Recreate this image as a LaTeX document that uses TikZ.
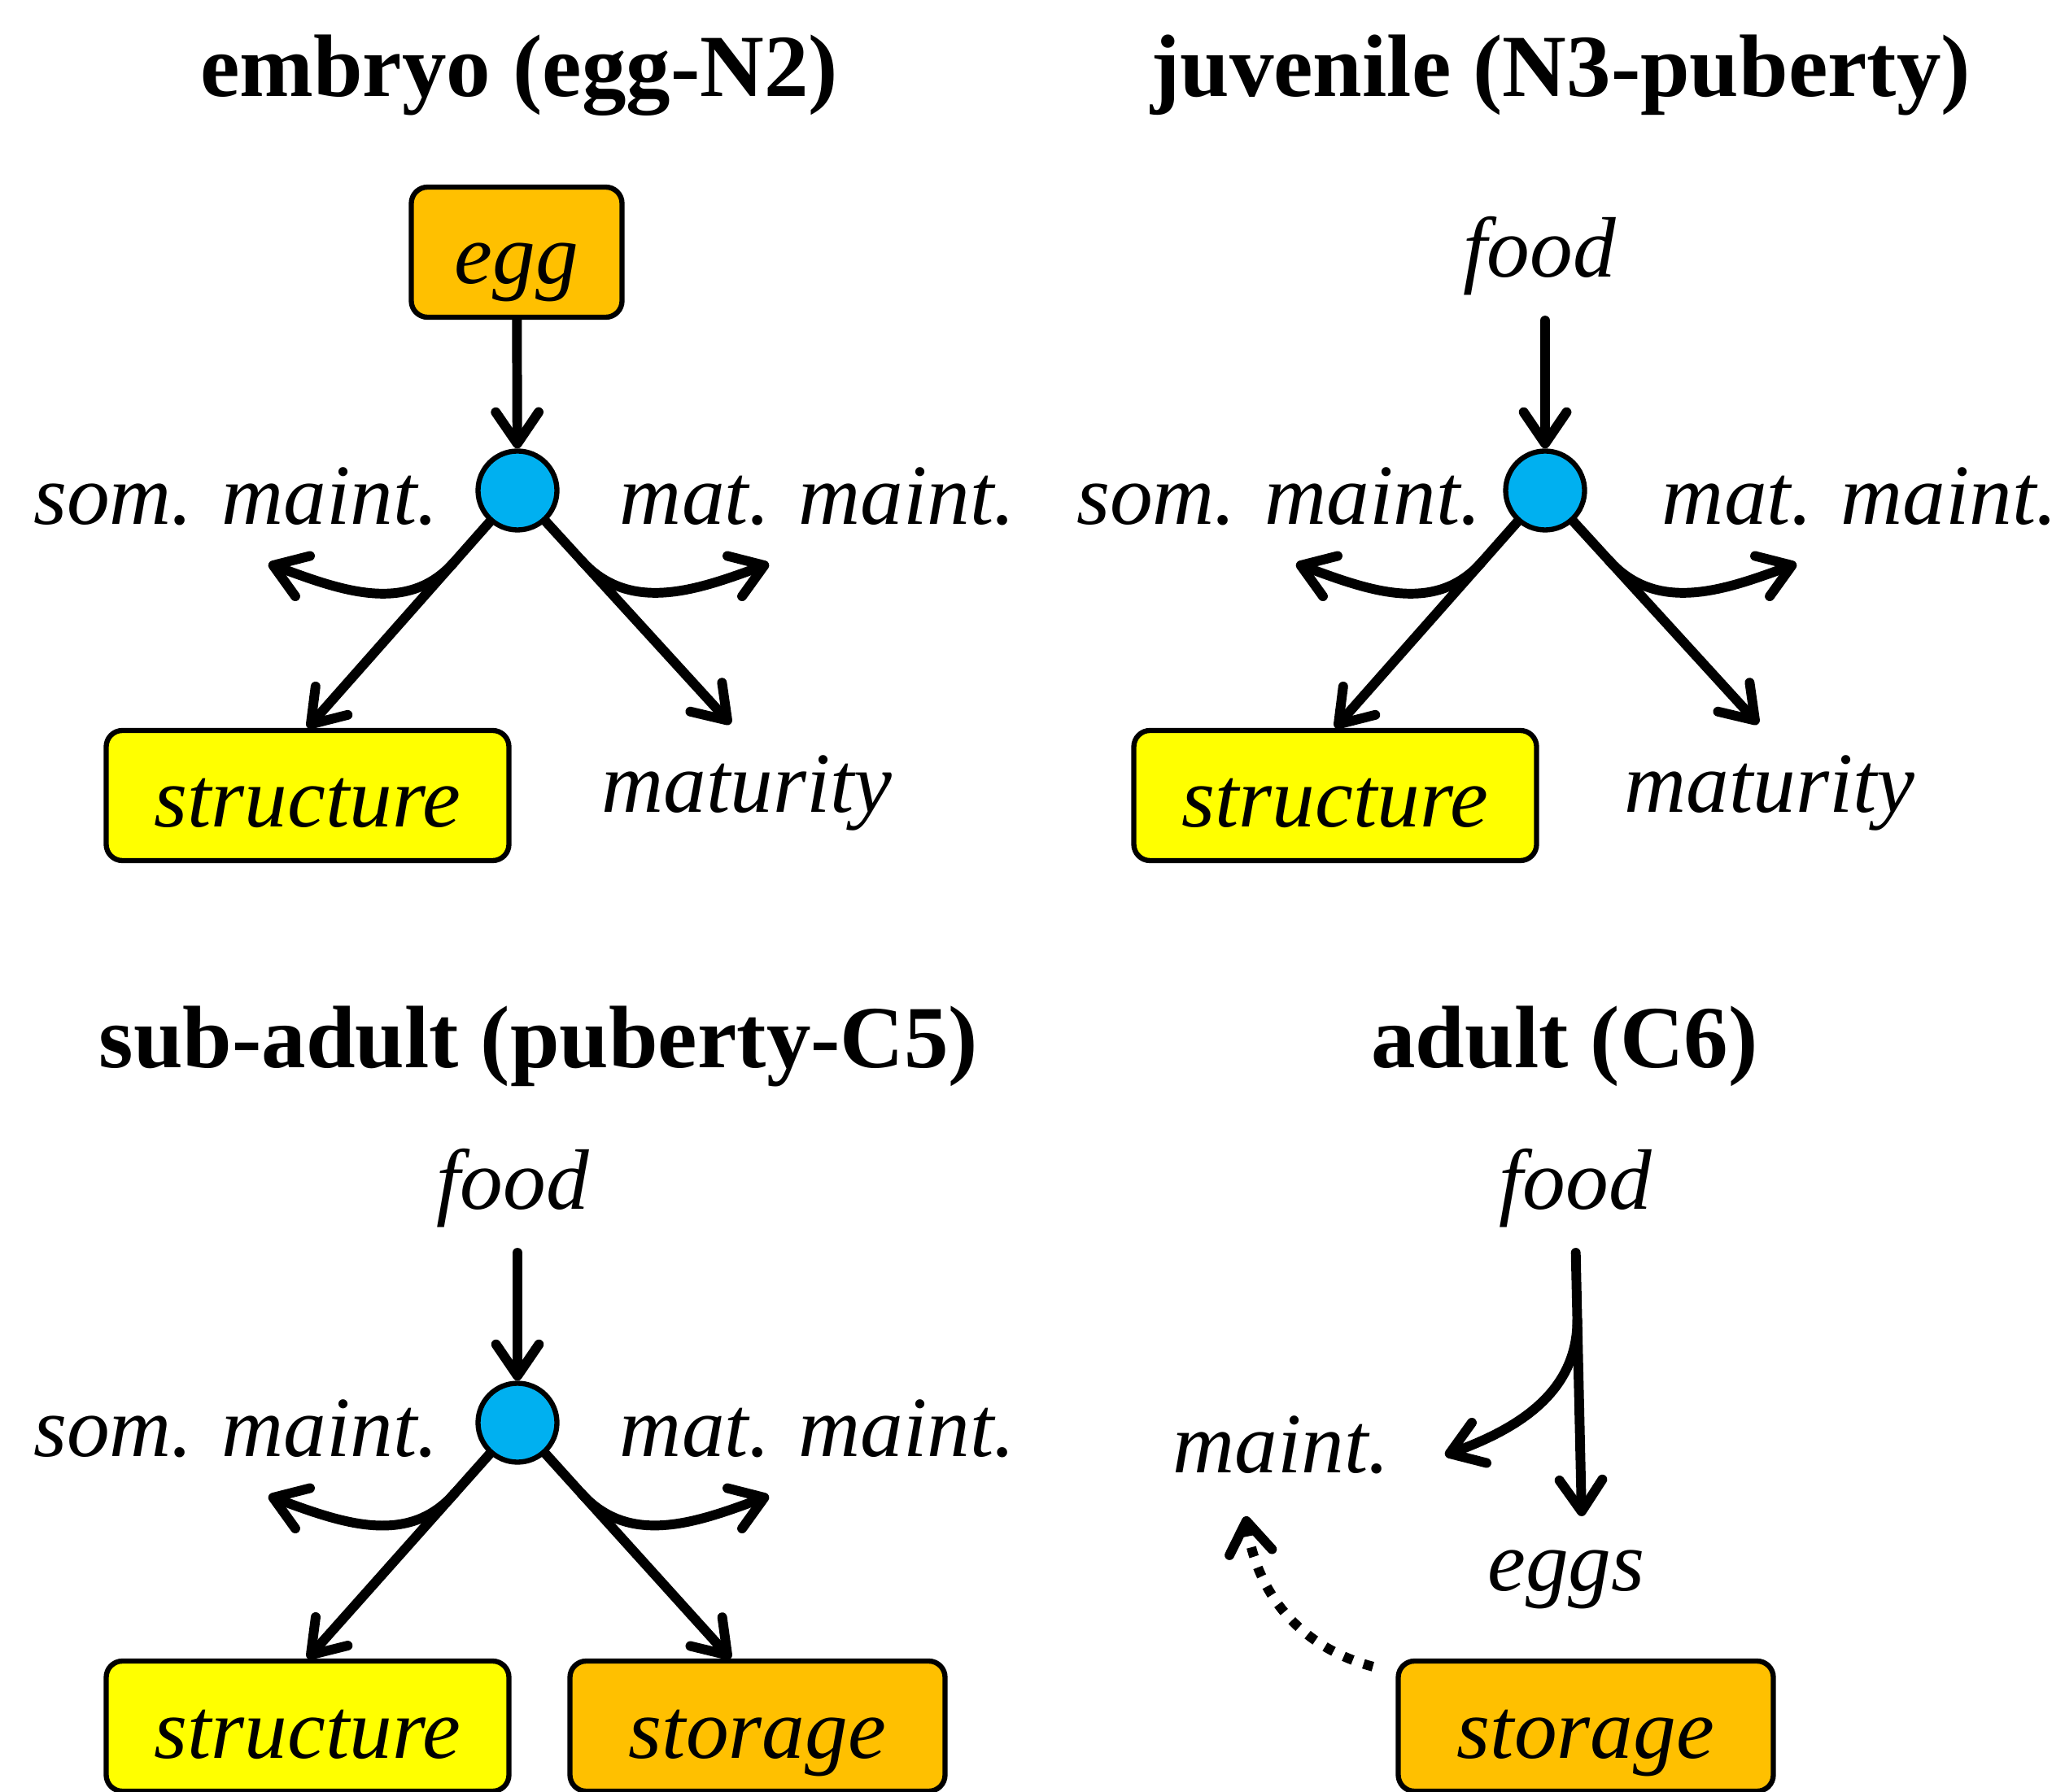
\documentclass[tikz,border=0pt]{standalone}
\usepackage{fontspec}
\setmainfont{Liberation Serif}
\usetikzlibrary{arrows.meta,calc}
\definecolor{eggorange}{HTML}{FFC000}
\definecolor{structyellow}{HTML}{FFFF00}
\definecolor{hubblue}{HTML}{00B0F0}
\tikzset{
  flow/.style={line width=3.4pt, line cap=round, -{Straight Barb[round,length=11pt,width=15pt]}},
  dotflow/.style={flow, line cap=butt, dash pattern=on 3.4pt off 4pt},
  hub/.style={circle, draw, line width=1.8pt, fill=hubblue, minimum size=0.97cm, inner sep=0pt},
  lbl/.style={font=\fontsize{30}{36}\selectfont\itshape, inner sep=0pt},
  ttl/.style={font=\fontsize{31}{37}\selectfont\bfseries, inner sep=0pt, anchor=base},
  box/.style={lbl, draw, line width=1.8pt, rounded corners=0.2cm, minimum height=1.6cm, text height=0.99cm, text depth=0.21cm},
}
\begin{document}
\begin{tikzpicture}
\useasboundingbox (0,0) rectangle (25.38,22.02);

% Titles
\node[ttl] (tA) at (6.38,20.83) {embryo (egg-N2)};
\node[ttl] (tB) at (19.18,20.83) {juvenile (N3-puberty)};
\node[ttl] (tC) at (6.62,8.90) {sub-adult (puberty-C5)};
\node[ttl] (tD) at (19.23,8.90) {adult (C6)};

% Inputs
\node[box, fill=eggorange, minimum width=2.59cm] (egg) at (6.35,18.92) {egg};
\node[lbl] (fB) at (18.92,18.87) {food};
\node[lbl] (fC) at (6.30,7.41) {food};
\node[lbl] (fD) at (19.36,7.41) {food};

% Outputs
\node[box, fill=structyellow, minimum width=4.95cm] (stA) at (3.78,12.24) {structure};
\node[box, fill=structyellow, minimum width=4.95cm] (stB) at (16.41,12.24) {structure};
\node[box, fill=structyellow, minimum width=4.95cm] (stC) at (3.78,0.80) {structure};
\node[box, fill=eggorange, minimum width=4.61cm] (sC) at (9.31,0.80) {storage};
\node[box, fill=eggorange, minimum width=4.61cm] (sD) at (19.49,0.80) {storage};
\node[lbl] (mA) at (9.18,12.27) {maturity};
\node[lbl] (mB) at (21.75,12.27) {maturity};
\coordinate (rA) at (8.98,13.12);
\coordinate (rB) at (21.61,13.12);
\coordinate (rC) at (8.98,1.63);

% Splitting nodes (embryo, juvenile, sub-adult)
\foreach \p/\x/\y/\s/\m in {A/6.36/15.99/2.90/10.05, B/18.99/15.99/15.72/22.86, C/6.36/4.53/2.90/10.05} {
  \node[hub] (h\p) at (\x,\y) {};
  \node[lbl] (so\p) at (\s,\y-0.07) {som. maint.};
  \node[lbl] (ma\p) at (\m,\y-0.07) {mat. maint.};
  \coordinate (cl\p) at (\x-3.06,\y-0.9);
  \coordinate (cr\p) at (\x+3.09,\y-0.9);
  \draw[flow] (h\p) -- (st\p.north);
  \draw[flow] (h\p) -- (r\p);
  \draw[flow] ($(h\p)!0.3!(st\p.north)$) to[out=-131,in=-20] (cl\p);
  \draw[flow] ($(h\p)!0.3!(r\p)$) to[out=-48,in=200] (cr\p);
}
\draw[flow] (egg) -- (hA);
\draw[flow, shorten <=0.3cm] (fB.south -| hB) -- (hB);
\draw[flow, shorten <=0.3cm] (fC.south -| hC) -- (hC);

% Adult
\node[lbl] (eD) at (19.25,2.60) {eggs};
\node[lbl] (mtD) at (15.75,4.26) {maint.};
\coordinate (bD) at (19.44,3.38);
\coordinate (jD) at ($(fD.south)!0.32!(bD)$);
\coordinate (tD) at (17.76,4.13);
\coordinate (dS) at ($(sD.north west)+(-0.28,-0.1)$);
\coordinate (dE) at (15.31,3.38);
\draw[flow, shorten <=0.3cm] (fD.south) -- (bD);
\draw[flow] (jD) to[out=-90,in=20] (tD);
\draw[dotflow] (dS) to[out=165,in=-82] (dE);

\end{tikzpicture}
\end{document}
